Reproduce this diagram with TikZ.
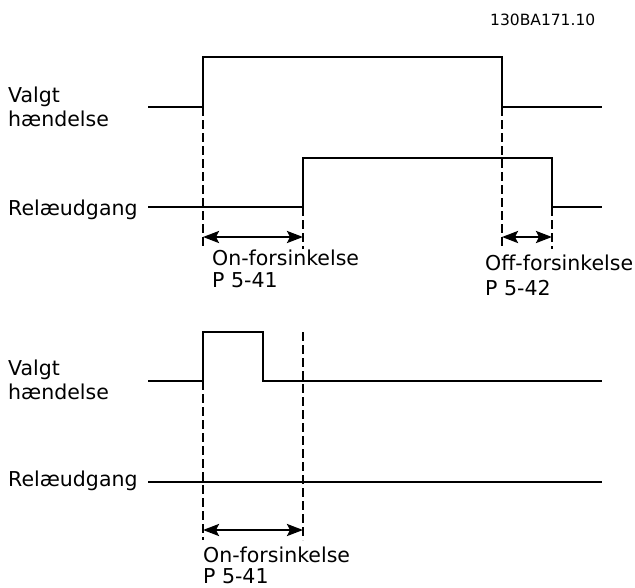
\documentclass[tikz,border=0pt]{standalone}
\usepackage{fontspec}
\setmainfont{DejaVu Sans}
\usetikzlibrary{arrows.meta}
\begin{document}
\begin{tikzpicture}[x=1pt,y=-1pt,
  sig/.style={line width=2.4pt, line join=miter},
  guide/.style={line width=2pt, dash pattern=on 9pt off 4pt},
  tip/.tip={Stealth[length=16pt,width=12pt,inset=3pt]},
  dimarrow/.style={line width=2.4pt, tip-tip},
  lbl/.style={anchor=base west, inner sep=0pt, font=\fontsize{20.5}{24}\selectfont},
  code/.style={anchor=base west, inner sep=0pt, font=\fontsize{15.5}{18}\selectfont}]
\useasboundingbox (0,0) rectangle (635,587);

% ---------- upper diagram ----------
\coordinate (v1a) at (148,107);
\coordinate (v1b) at (203,107);
\coordinate (v1c) at (203,57);
\coordinate (v1d) at (502,57);
\coordinate (v1e) at (502,107);
\coordinate (v1f) at (602,107);
\draw[sig] (v1a) -- (v1b) -- (v1c) -- (v1d) -- (v1e) -- (v1f);

\coordinate (r1a) at (148,207);
\coordinate (r1b) at (303,207);
\coordinate (r1c) at (303,158);
\coordinate (r1d) at (552,158);
\coordinate (r1e) at (552,207);
\coordinate (r1f) at (602,207);
\draw[sig] (r1a) -- (r1b) -- (r1c) -- (r1d) -- (r1e) -- (r1f);

\coordinate (g1a) at (203,249);
\coordinate (g1b) at (303,249);
\coordinate (g1c) at (502,249);
\coordinate (g1d) at (552,249);
\draw[guide] (v1b) -- (g1a);
\draw[guide] (r1b) -- (g1b);
\draw[guide] (v1e) -- (g1c);
\draw[guide] (r1e) -- (g1d);

\coordinate (a1l) at (203,237);
\coordinate (a1r) at (303,237);
\coordinate (a2l) at (502,237);
\coordinate (a2r) at (552,237);
\draw[dimarrow] (a1l) -- (a1r);
\draw[dimarrow] (a2l) -- (a2r);

\node[code] (id) at (490,25) {130BA171.10};
\node[lbl] (t1) at (8,102) {Valgt};
\node[lbl] (t2) at (8,126) {hændelse};
\node[lbl] (t3) at (8,215) {Relæudgang};
\node[lbl] (t4) at (212,265) {On-forsinkelse};
\node[lbl] (t5) at (212,287) {P 5-41};
\node[lbl] (t6) at (485,270) {Off-forsinkelse};
\node[lbl] (t7) at (485,295) {P 5-42};

% ---------- lower diagram ----------
\coordinate (v2a) at (148,381);
\coordinate (v2b) at (203,381);
\coordinate (v2c) at (203,332);
\coordinate (v2d) at (263,332);
\coordinate (v2e) at (263,381);
\coordinate (v2f) at (602,381);
\draw[sig] (v2a) -- (v2b) -- (v2c) -- (v2d) -- (v2e) -- (v2f);

\coordinate (r2a) at (148,482);
\coordinate (r2b) at (602,482);
\draw[sig] (r2a) -- (r2b);

\coordinate (h2a) at (303,332);
\coordinate (g2a) at (203,540);
\coordinate (g2b) at (303,540);
\draw[guide] (v2b) -- (g2a);
\draw[guide] (h2a) -- (g2b);

\coordinate (a3l) at (203,530);
\coordinate (a3r) at (303,530);
\draw[dimarrow] (a3l) -- (a3r);

\node[lbl] (t8) at (8,375) {Valgt};
\node[lbl] (t9) at (8,399) {hændelse};
\node[lbl] (t10) at (8,486) {Relæudgang};
\node[lbl] (t11) at (203,562) {On-forsinkelse};
\node[lbl] (t12) at (203,583) {P 5-41};
\end{tikzpicture}
\end{document}
